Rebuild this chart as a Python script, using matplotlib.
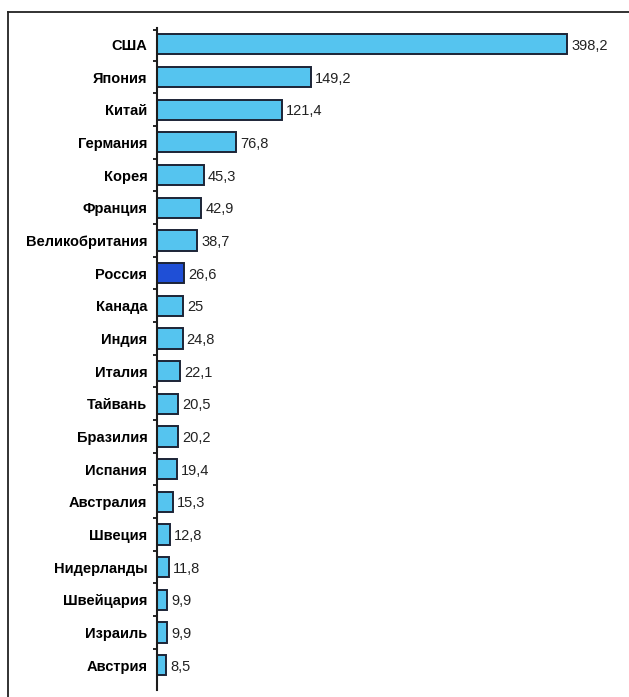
import matplotlib.pyplot as plt
from matplotlib.lines import Line2D

countries = ['США', 'Япония', 'Китай', 'Германия', 'Корея', 'Франция',
             'Великобритания', 'Россия', 'Канада', 'Индия', 'Италия',
             'Тайвань', 'Бразилия', 'Испания', 'Австралия', 'Швеция',
             'Нидерланды', 'Швейцария', 'Израиль', 'Австрия']
values = [398.2, 149.2, 121.4, 76.8, 45.3, 42.9, 38.7, 26.6, 25, 24.8,
          22.1, 20.5, 20.2, 19.4, 15.3, 12.8, 11.8, 9.9, 9.9, 8.5]
labels = ['398,2', '149,2', '121,4', '76,8', '45,3', '42,9', '38,7', '26,6',
          '25', '24,8', '22,1', '20,5', '20,2', '19,4', '15,3', '12,8',
          '11,8', '9,9', '9,9', '8,5']
highlight = 'Россия'

font = 'Liberation Sans'

colors = ['#1f4fd6' if c == highlight else '#55c4ef' for c in countries]
pos = list(range(len(countries)))

fig = plt.figure(figsize=(6.29, 6.97), dpi=100)
ax = fig.add_axes([157 / 629, 7 / 697, 443 / 629, 662 / 697])

ax.barh(pos, values, height=0.62, color=colors, edgecolor='#1c2436', linewidth=1.4)
ax.set_xlim(0, 430)
ax.set_ylim(19.76, -0.5)

for y, v, t in zip(pos, values, labels):
    ax.text(v + 4, y + 0.05, t, va='center', ha='left', fontsize=10.5,
            family=font, color='#222222')

ax.set_yticks(pos)
ax.set_yticklabels(countries, fontsize=10.5, fontweight='bold', family=font)
ax.tick_params(axis='y', which='major', length=0, pad=7)
ax.set_yticks([p + 0.5 for p in pos[:-1]] + [-0.45], minor=True)
ax.tick_params(axis='y', which='minor', length=3, width=1.2, direction='out')
ax.set_xticks([])

for s in ['top', 'right', 'bottom']:
    ax.spines[s].set_visible(False)
ax.spines['left'].set_linewidth(1.5)
ax.spines['left'].set_color('#1c1c1c')

# outer frame (top and left edges)
fig.add_artist(Line2D([8 / 629, 1], [1 - 12 / 697, 1 - 12 / 697],
                      transform=fig.transFigure, color='#222222', linewidth=1.3))
fig.add_artist(Line2D([8 / 629, 8 / 629], [0, 1 - 12 / 697],
                      transform=fig.transFigure, color='#222222', linewidth=1.3))

fig.savefig('out.png', dpi=100)
